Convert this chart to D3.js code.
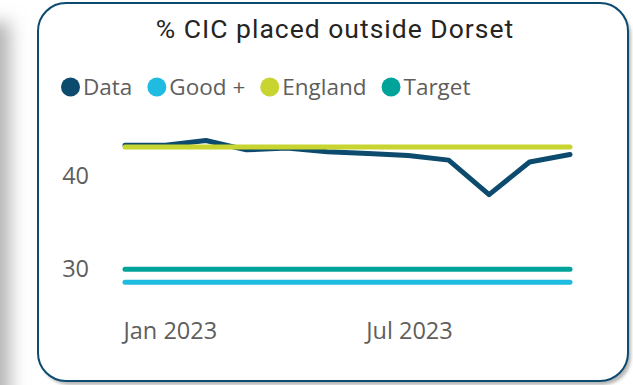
<!DOCTYPE html>
<html>
<head>
<meta charset="utf-8">
<script src="https://cdn.jsdelivr.net/npm/d3@7"></script>
<style>
  html, body { margin: 0; padding: 0; background: #ffffff; }
  svg { display: block; }
</style>
</head>
<body>
<svg id="chart" width="633" height="385"></svg>
<script>
// Monthly figures for children in care placed outside Dorset (%)
const months = ["Jan 2023", "Feb 2023", "Mar 2023", "Apr 2023", "May 2023", "Jun 2023",
                "Jul 2023", "Aug 2023", "Sep 2023", "Oct 2023", "Nov 2023", "Dec 2023"];
const dataValues    = [43.3, 43.3, 43.8, 42.8, 43.0, 42.6, 42.4, 42.2, 41.7, 38.0, 41.5, 42.3];
const goodValues    = [28.6, 28.6, 28.6, 28.6, 28.6, 28.6, 28.6, 28.6, 28.6, 28.6, 28.6, 28.6];
const englandValues = [43.1, 43.1, 43.1, 43.1, 43.1, 43.1, 43.1, 43.1, 43.1, 43.1, 43.1, 43.1];
const targetValues  = [30, 30, 30, 30, 30, 30, 30, 30, 30, 30, 30, 30];
const yTicks = [30, 40];
const xTickLabels = ["Jan 2023", "Jul 2023"];
const seriesNames = ["Data", "Good +", "England", "Target"];

const colors = {
  "Data": "#0c4a6e",
  "Good +": "#1fbbe1",
  "England": "#c8d530",
  "Target": "#00a39a"
};

const svg = d3.select("#chart");
const W = 633, H = 385;

const defs = svg.append("defs");
defs.append("filter").attr("id", "sideShade")
  .attr("x", "-100%").attr("y", "-20%").attr("width", "300%").attr("height", "140%")
  .append("feGaussianBlur").attr("stdDeviation", 9);
defs.append("filter").attr("id", "cardShadow")
  .attr("x", "-10%").attr("y", "-10%").attr("width", "120%").attr("height", "120%")
  .append("feGaussianBlur").attr("stdDeviation", 1.5);

// page background and soft shading on the left
svg.append("rect").attr("width", W).attr("height", H).attr("fill", "#ffffff");
svg.append("rect")
  .attr("x", -40).attr("y", 22).attr("width", 50).attr("height", 420)
  .attr("fill", "#b4b4b4").attr("filter", "url(#sideShade)");

// card
const card = { x: 38, y: 3, w: 590, h: 378, r: 28 };
svg.append("rect")
  .attr("x", card.x + 3).attr("y", card.y + 4)
  .attr("width", card.w).attr("height", card.h)
  .attr("rx", card.r)
  .attr("fill", "#b8b8b8").attr("filter", "url(#cardShadow)");
svg.append("rect")
  .attr("x", card.x).attr("y", card.y)
  .attr("width", card.w).attr("height", card.h)
  .attr("rx", card.r)
  .attr("fill", "#ffffff")
  .attr("stroke", "#0d4a70").attr("stroke-width", 2);

// title
svg.append("text")
  .attr("x", 335).attr("y", 38)
  .attr("text-anchor", "middle")
  .attr("font-family", "Roboto, sans-serif")
  .attr("font-size", 26.5)
  .attr("letter-spacing", 1)
  .attr("fill", "#252423")
  .text("% CIC placed outside Dorset");

// legend
const legend = svg.append("g").attr("font-family", "'Open Sans', sans-serif")
  .attr("font-size", 22.5).attr("fill", "#605e5c");
let lx = 61;
seriesNames.forEach(name => {
  const g = legend.append("g");
  g.append("circle").attr("cx", lx + 9.5).attr("cy", 87).attr("r", 9.5).attr("fill", colors[name]);
  const t = g.append("text").attr("x", lx + 22).attr("y", 95).text(name);
  lx += 22 + t.node().getComputedTextLength() + 15;
});

// scales
const x = d3.scalePoint().domain(months).range([125, 570]);
const y = d3.scaleLinear().domain([26, 46]).range([306.6, 120]);

// axes
const yAxis = svg.append("g")
  .attr("transform", "translate(89,0)")
  .call(d3.axisLeft(y).tickValues(yTicks).tickSize(0).tickPadding(0).tickFormat(d3.format("d")));
yAxis.select(".domain").remove();
yAxis.selectAll("text")
  .attr("font-family", "'Open Sans', sans-serif")
  .attr("font-size", 23.5)
  .attr("fill", "#605e5c");

const xAxis = svg.append("g")
  .attr("transform", "translate(0,322)")
  .call(d3.axisBottom(x).tickValues(xTickLabels).tickSize(0).tickPadding(0));
xAxis.select(".domain").remove();
xAxis.selectAll("text")
  .attr("text-anchor", "start")
  .attr("dx", -2)
  .attr("font-family", "'Open Sans', sans-serif")
  .attr("font-size", 23.5)
  .attr("fill", "#605e5c");

// series lines
const line = d3.line().x((d, i) => x(months[i])).y(d => y(d));
const series = [
  ["Data", dataValues],
  ["Good +", goodValues],
  ["England", englandValues],
  ["Target", targetValues]
];
series.forEach(([name, vals]) => {
  svg.append("path")
    .datum(vals)
    .attr("d", line)
    .attr("fill", "none")
    .attr("stroke", colors[name])
    .attr("stroke-width", 5)
    .attr("stroke-linecap", "round")
    .attr("stroke-linejoin", "round");
});
</script>
</body>
</html>
